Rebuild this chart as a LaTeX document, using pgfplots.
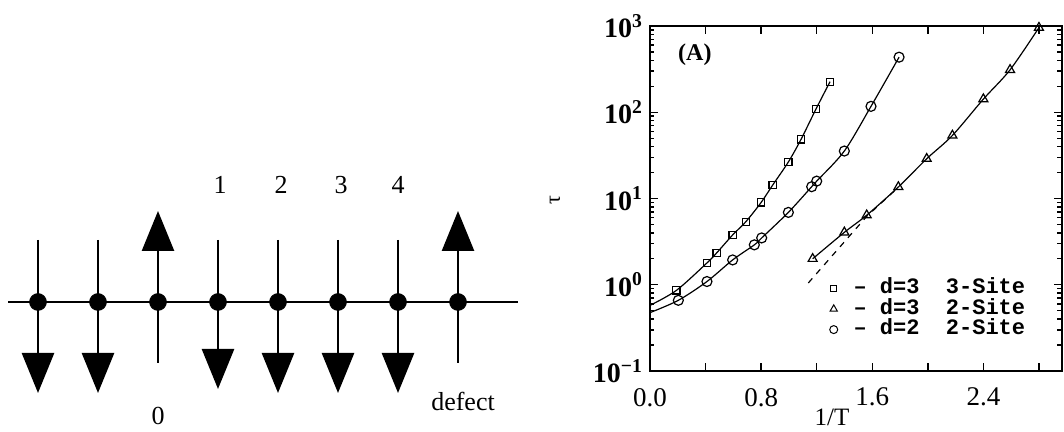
\documentclass[border=0pt]{standalone}
\usepackage{fontspec}
\setmainfont{Liberation Serif}
\newfontfamily\legfont{Liberation Mono}
\usepackage{pgfplots}
\pgfplotsset{compat=1.18}
\usetikzlibrary{arrows.meta}

\begin{document}
\begin{tikzpicture}
\useasboundingbox (0,0) rectangle (532pt,216pt);
% left panel: spin chain, in pixel units (1 px = 0.5pt)
\begin{axis}[at={(0pt,0pt)},anchor=south west,width=532pt,height=216pt,scale only axis,
  xmin=0,xmax=1064,ymin=0,ymax=432,hide axis,clip=false]
\addplot[black,line width=1pt] coordinates {(8,130) (518,130)};
\addplot[black,line width=1.3pt,-{Triangle[length=20pt,width=16pt]},quiver={u=0,v=\thisrow{v}}] table {
x y v
38 192 -153
98 192 -153
218 192 -149
278 192 -153
338 192 -153
398 192 -153
};
\addplot[black,line width=1.3pt,-{Triangle[length=20pt,width=16pt]},quiver={u=0,v=\thisrow{v}}] table {
x y v
158 69 152
458 69 152
};
\addplot[only marks,mark=*,mark size=4.2pt,black] coordinates {(38,130) (98,130) (158,130) (218,130) (278,130) (338,130) (398,130) (458,130)};
\node[font=\fontsize{13}{13}\selectfont] at (axis cs:220,247) {1};
\node[font=\fontsize{13}{13}\selectfont] at (axis cs:281,247) {2};
\node[font=\fontsize{13}{13}\selectfont] at (axis cs:341,247) {3};
\node[font=\fontsize{13}{13}\selectfont] at (axis cs:398,247) {4};
\node[font=\fontsize{13}{13}\selectfont] at (axis cs:158,16) {0};
\node[font=\fontsize{13}{13}\selectfont] at (axis cs:463,31) {defect};
\end{axis}

% right panel: relaxation time vs 1/T
\begin{axis}[at={(325pt,30.5pt)},anchor=south west,width=205.85pt,height=172.5pt,scale only axis,
  ymode=log,xmin=0,xmax=2.964,ymin=0.1,ymax=1000,clip=false,
  axis line style={line width=0.9pt},tick style={black,line width=0.7pt},
  tick align=inside,major tick length=4pt,minor tick length=2.2pt,
  xtick={0,0.4,0.8,1.2,1.6,2.0,2.4,2.8},xticklabels={0.0,,0.8,,1.6,,2.4,},
  ytick={0.1,1,10,100,1000},
  yticklabels={10\textsuperscript{−1},10\textsuperscript{0},10\textsuperscript{1},10\textsuperscript{2},10\textsuperscript{3}},
  xticklabel style={font=\fontsize{13.5}{13.5}\selectfont,yshift=-5pt},
  yticklabel style={font=\fontsize{14}{14}\selectfont\bfseries},
  xlabel={1/T},xlabel style={at={(axis description cs:0.442,-0.134)},anchor=center,font=\fontsize{12.5}{12.5}\selectfont},
  ylabel={τ},ylabel style={at={(axis description cs:-0.231,0.496)},anchor=center,font=\fontsize{11}{11}\selectfont},
  legend style={draw=none,fill=none,at={(rel axis cs:0.43,0.2704)},anchor=north west,
    font=\legfont\bfseries\fontsize{11}{11}\selectfont,row sep=0pt,inner sep=0pt,
    nodes={inner sep=0.5pt,text height=7.3pt,text depth=2pt}},
  legend cell align=left,
  legend image code/.code={\draw[mark options={scale=0.8,line width=0.5pt}] plot coordinates {(0.1cm,0cm)};\path (0cm,0cm) (0.42cm,0cm);}]
% curves
\addplot[black,line width=0.6pt,smooth,forget plot] coordinates {(0,0.577) (0.19,0.86) (0.41,1.79) (0.48,2.34) (0.595,3.78) (0.69,5.38) (0.80,9.0) (0.883,14.3) (0.996,26.5) (1.087,48.4) (1.195,109) (1.296,226)};
\addplot[black,line width=0.6pt,smooth,forget plot] coordinates {(0,0.475) (0.204,0.66) (0.41,1.09) (0.595,1.94) (0.751,2.9) (0.804,3.49) (0.996,6.9) (1.164,13.7) (1.2,15.9) (1.399,35.5) (1.591,117) (1.793,435)};
\addplot[black,line width=0.6pt,smooth,forget plot] coordinates {(1.171,2.0) (1.399,4.05) (1.56,6.4) (1.788,13.6) (1.992,28.9) (2.177,53.8) (2.4,142) (2.592,310) (2.8,956)};
\addplot[black,line width=0.6pt,dashed,forget plot] coordinates {(1.14,1.05) (1.56,6.2) (1.79,13.6)};
% data points
\addplot[only marks,mark=square,mark size=1.8pt,black,line width=0.6pt] coordinates {(0.19,0.86) (0.41,1.79) (0.48,2.34) (0.595,3.78) (0.69,5.38) (0.80,9.0) (0.883,14.3) (0.996,26.5) (1.087,48.4) (1.195,109) (1.296,226)};
\addplot[only marks,mark=triangle,mark size=2.6pt,black,line width=0.6pt] coordinates {(1.171,2.0) (1.399,4.05) (1.56,6.4) (1.788,13.6) (1.992,28.9) (2.177,53.8) (2.4,142) (2.592,310) (2.8,956)};
\addplot[only marks,mark=o,mark size=2.5pt,black,line width=0.6pt] coordinates {(0.204,0.66) (0.41,1.09) (0.595,1.94) (0.751,2.9) (0.804,3.49) (0.996,6.9) (1.164,13.7) (1.2,15.9) (1.399,35.5) (1.591,117) (1.793,435)};
\legend{–~d=3~~3-Site,–~d=3~~2-Site,–~d=2~~2-Site}
\node[font=\bfseries\fontsize{12}{12}\selectfont] at (rel axis cs:0.109,0.916) {(A)};
\end{axis}
\end{tikzpicture}
\end{document}
